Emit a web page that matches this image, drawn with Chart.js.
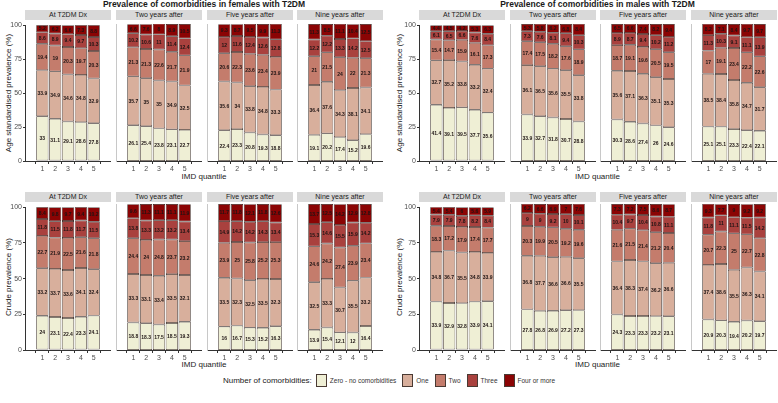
<!DOCTYPE html>
<html>
<head>
<meta charset="utf-8">
<script src="https://cdn.jsdelivr.net/npm/chart.js@4.4.3/dist/chart.umd.min.js"></script>
<style>
  html, body { margin: 0; padding: 0; background: #fff; }
  body { width: 778px; height: 403px; position: relative; overflow: hidden;
         font-family: "Liberation Sans", Arial, sans-serif; color: #1a1a1a; }
  .abs { position: absolute; }
  .title { font-weight: bold; font-size: 8.5px; text-align: center; white-space: nowrap; }
  .strip { background: #d9d9d9; font-size: 7px; text-align: center; line-height: 10px; color: #1a1a1a; }
  .ytitle { font-size: 8px; white-space: nowrap; transform: translate(-50%, -50%) rotate(-90deg); }
  .xtitle { font-size: 8px; white-space: nowrap; transform: translateX(-50%); }
  #legend { left: 3px; width: 778px; top: 374px; display: flex; justify-content: center; align-items: center; font-size: 6.5px; }
  #legend .lab { font-size: 8px; margin-right: 4px; }
  #legend .box { width: 11px; height: 13px; border: 1px solid #4a3a33; box-sizing: border-box; margin: 0 3px 0 0; }
  #legend .txt { margin-right: 6px; color: #333; }
</style>
</head>
<body>
<script>
const quantiles = ['1', '2', '3', '4', '5'];
const timepoints = ['At T2DM Dx', 'Two years after', 'Five years after', 'Nine years after'];
const categories = ['Zero - no comorbidities', 'One', 'Two', 'Three', 'Four or more'];
const segColors = ['#EFEFD5', '#D8AF9C', '#C47C6C', '#A9413E', '#8B0404'];
const yTicks = [0, 25, 50, 75, 100];

// each array: [zero, one, two, three, four or more], values per IMD quantile 1..5
const femAgeDx = [[33, 31.1, 29.1, 28.6, 27.8], [33.9, 34.9, 34.6, 34.8, 32.9], [19.4, 19, 20.3, 19.7, 20.3], [8.6, 8.9, 9.4, 9.7, 10.3], [5.2, 6.2, 6.6, 7.3, 8.8]];
const femAge2y = [[26.1, 25.4, 23.8, 23.1, 22.7], [35.7, 35, 35, 34.9, 32.5], [21.3, 21.3, 22.6, 21.7, 21.9], [10.2, 10.6, 11, 11.4, 12.4], [6.6, 7.6, 8, 8.9, 10.5]];
const femAge5y = [[22.4, 23.3, 20.8, 19.3, 18.8], [35.6, 34, 33.8, 34.8, 33.3], [20.6, 22.3, 23.6, 23.4, 23.9], [12, 11.6, 12.4, 12.6, 12.8], [9.3, 8.7, 9.5, 9.9, 11.3]];
const femAge9y = [[19.1, 20.2, 17.4, 15.2, 19.6], [36.4, 37.6, 34.3, 38.1, 34.1], [21, 21.5, 24, 22, 21.3], [12.2, 12.2, 13.3, 14.2, 12.5], [11.3, 8.5, 11.1, 10.4, 12.5]];

const maleAgeDx = [[41.4, 39.1, 39.5, 37.7, 35.6], [32.7, 35.2, 33.8, 33.2, 32.4], [15.4, 14.7, 15.9, 16.1, 17.3], [6.1, 6.5, 6.6, 7.6, 8.4], [4.4, 4.5, 4.2, 5.3, 6.3]];
const maleAge2y = [[33.9, 32.7, 31.8, 30.7, 28.8], [36.1, 36.5, 35.6, 35.5, 33.8], [17.4, 17.5, 18.2, 17.6, 18.9], [7.3, 7.6, 8.1, 9.4, 10.3], [5.3, 5.8, 6.2, 6.8, 8.4]];
const maleAge5y = [[30.3, 28.6, 27.4, 26, 24.6], [35.6, 37.1, 36.3, 35.1, 35.3], [18.7, 19.1, 19.6, 20.5, 19.5], [8.9, 8.7, 9.4, 10.2, 11.2], [6.5, 6.6, 7.4, 8.2, 9.4]];
const maleAge9y = [[25.1, 25.1, 23.3, 22.4, 22.1], [38.5, 38.4, 35.8, 34.7, 31.7], [17, 19.1, 23.4, 22.2, 22.6], [11.3, 10.3, 9.1, 11.1, 13.9], [8.2, 7.1, 8.4, 9.7, 9.7]];

const femCrudeDx = [[24, 23.1, 22.4, 23.3, 24.1], [33.2, 33.7, 33.6, 34.1, 32.4], [22.7, 21.9, 22.5, 21.6, 21.8], [11.8, 11.5, 11.8, 11.7, 11.5], [8.4, 9.8, 9.7, 9.4, 10.2]];
const femCrude2y = [[18.8, 18.3, 17.5, 18.5, 19.3], [33.3, 33.1, 33.4, 33.5, 32.1], [24.4, 24, 24.8, 23.7, 23.2], [13.8, 13.3, 13.2, 13.2, 13.4], [9.6, 11.3, 11.1, 11.1, 11.9]];
const femCrude5y = [[16, 16.7, 15.3, 15.2, 16.3], [33.5, 32.3, 32.5, 33.5, 32.3], [23.9, 25, 25.8, 25.2, 25.3], [14.9, 14.2, 14.2, 14.3, 13.4], [11.7, 11.8, 12.1, 11.8, 12.6]];
const femCrude9y = [[13.9, 15.4, 12.1, 12, 16.4], [32.5, 33.3, 30.7, 35.5, 33.2], [24.6, 24.2, 27.4, 23.9, 23.4], [15.3, 14.6, 15.5, 15.9, 14.2], [13.7, 12.5, 14.2, 12.9, 12.8]];

const maleCrudeDx = [[33.9, 32.9, 32.8, 33.9, 34.1], [34.8, 36.7, 35.5, 34.8, 33.9], [18.3, 17.2, 17.9, 17.4, 17.7], [7.9, 7.9, 7.8, 8.2, 8.4], [5.4, 5.4, 6, 5.6, 5.9]];
const maleCrude2y = [[27.8, 26.8, 26.9, 27.2, 27.3], [36.8, 37.7, 36.6, 36.6, 35.5], [20.3, 19.9, 20.5, 19.2, 19.6], [9, 9, 9.2, 10, 10.1], [6.2, 6.6, 6.9, 7, 7.6]];
const maleCrude5y = [[24.3, 23.3, 23.3, 23.2, 23.1], [36.4, 38.3, 37.4, 36.2, 36.6], [21.6, 21.5, 21.4, 21.2, 20.4], [10.4, 9.7, 10.4, 10.8, 11.1], [7.3, 7.2, 7.5, 8.6, 8.7]];
const maleCrude9y = [[20.9, 20.3, 19.4, 20.2, 19.7], [37.4, 38.6, 35.5, 36.3, 34.1], [20.7, 22.3, 25, 22.7, 22.8], [11.8, 11, 11.1, 11.5, 14.2], [9.3, 7.7, 9, 9.2, 9.2]];

const FONT = '"Liberation Sans", Arial, sans-serif';

// segment value labels drawn in the middle of each stacked piece
const segLabels = {
  id: 'segLabels',
  afterDatasetsDraw(chart) {
    const ctx = chart.ctx;
    ctx.save();
    ctx.font = 'bold 5px ' + FONT;
    ctx.fillStyle = '#1e1414';
    ctx.textAlign = 'center';
    ctx.textBaseline = 'middle';
    chart.data.datasets.forEach((ds, di) => {
      chart.getDatasetMeta(di).data.forEach((bar, i) => {
        ctx.fillText(String(ds.data[i].y), bar.x, (bar.y + bar.base) / 2 + 0.5);
      });
    });
    ctx.restore();
  }
};

function addDiv(cls, text, css) {
  const d = document.createElement('div');
  d.className = 'abs ' + cls;
  d.textContent = text;
  Object.assign(d.style, css);
  document.body.appendChild(d);
  return d;
}

function makeFacet(series, left, width, canvasTop, padTop, plotH, firstInRow) {
  const yW = firstInRow ? 25 : 0;
  const c = document.createElement('canvas');
  c.width = width + yW;
  c.height = padTop + plotH + 16;
  c.className = 'abs';
  c.style.left = (left - yW) + 'px';
  c.style.top = canvasTop + 'px';
  document.body.appendChild(c);

  const datasets = series.map((vals, k) => ({
    label: categories[k],
    data: vals.map((v, i) => ({ x: Number(quantiles[i]), y: v })),
    backgroundColor: segColors[k],
    borderColor: '#2c1e19',
    borderWidth: 0.7,
    borderSkipped: false,
    barPercentage: 0.95,
    categoryPercentage: 1
  }));

  new Chart(c.getContext('2d'), {
    type: 'bar',
    data: { datasets },
    plugins: [segLabels],
    options: {
      responsive: false,
      animation: false,
      layout: { padding: { top: padTop, left: 0, right: 0, bottom: 0 } },
      plugins: { legend: { display: false }, tooltip: { enabled: false } },
      scales: {
        x: {
          type: 'linear', stacked: true, min: 0.32, max: 5.68,
          afterFit: (s) => { s.height = 16; },
          grid: { display: true, drawOnChartArea: false, tickLength: 3, color: '#333' },
          border: { display: true, color: '#333', width: 1 },
          ticks: { stepSize: 1, includeBounds: false, padding: 1, color: '#4d4d4d',
                   font: { size: 7, family: FONT }, callback: (v) => String(v) }
        },
        y: {
          stacked: true, min: 0, max: 100,
          afterFit: (s) => { s.width = yW; },
          afterBuildTicks: (s) => { s.ticks = yTicks.map(v => ({ value: v })); },
          grid: { display: firstInRow, drawOnChartArea: false, tickLength: 2, color: '#333' },
          border: { display: true, color: firstInRow ? '#333' : '#c8c8c8', width: 1 },
          ticks: { display: firstInRow, padding: 1, color: '#4d4d4d', font: { size: 7, family: FONT } }
        }
      }
    }
  });
}

const rows = [
  { stripTop: 10, plotTop: 24, plotBottom: 161, xTitleY: 172, yTitle: 'Age standardised prevalence (%)',
    halves: [[femAgeDx, femAge2y, femAge5y, femAge9y], [maleAgeDx, maleAge2y, maleAge5y, maleAge9y]] },
  { stripTop: 192, plotTop: 204, plotBottom: 350, xTitleY: 360, yTitle: 'Crude prevalence (%)',
    halves: [[femCrudeDx, femCrude2y, femCrude5y, femCrude9y], [maleCrudeDx, maleCrude2y, maleCrude5y, maleCrude9y]] }
];
const halfSpan = [[25, 383], [419, 776]];
const halfTitles = ['Prevalence of comorbidities in females with T2DM', 'Prevalence of comorbidities in males with T2DM'];
const yTitleX = [8, 399];

halfSpan.forEach((sp, h) => {
  addDiv('title', halfTitles[h], { left: sp[0] + 'px', width: (sp[1] - sp[0]) + 'px', top: '-1px' });
});

rows.forEach((row) => {
  const canvasTop = row.stripTop + 10;
  const padTop = row.plotTop - canvasTop;
  const plotH = row.plotBottom - row.plotTop;
  row.halves.forEach((facets, h) => {
    const [x0, x1] = halfSpan[h];
    const fw = (x1 - x0 - 15) / 4;
    addDiv('ytitle', row.yTitle, { left: yTitleX[h] + 'px', top: ((row.plotTop + row.plotBottom) / 2) + 'px' });
    addDiv('xtitle', 'IMD quantile', { left: ((x0 + x1) / 2) + 'px', top: row.xTitleY + 'px' });
    facets.forEach((series, j) => {
      const fl = Math.round(x0 + j * (fw + 5));
      const w = Math.round(fw);
      addDiv('strip', timepoints[j], { left: fl + 'px', top: row.stripTop + 'px', width: w + 'px', height: '10px' });
      makeFacet(series, fl, w, canvasTop, padTop, plotH, j === 0);
    });
  });
});

// legend
const lg = document.createElement('div');
lg.id = 'legend';
lg.className = 'abs';
const lab = document.createElement('span');
lab.className = 'lab';
lab.textContent = 'Number of comorbidities:';
lg.appendChild(lab);
categories.forEach((name, k) => {
  const b = document.createElement('span');
  b.className = 'box';
  b.style.background = segColors[k];
  const t = document.createElement('span');
  t.className = 'txt';
  t.textContent = name;
  lg.appendChild(b);
  lg.appendChild(t);
});
document.body.appendChild(lg);
</script>
</body>
</html>
